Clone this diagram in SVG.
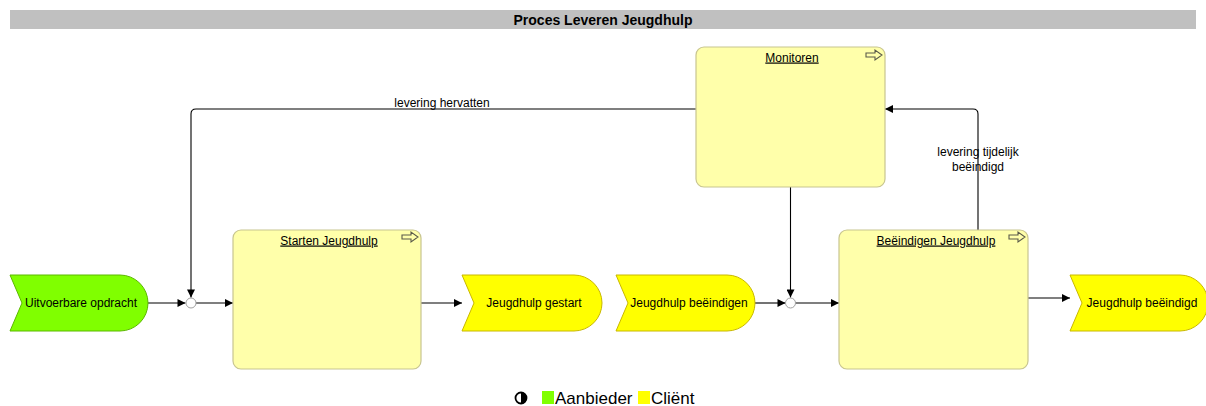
<svg xmlns="http://www.w3.org/2000/svg" width="1206" height="406" viewBox="0 0 1206 406">
<style>
text{font-family:"Liberation Sans",Arial,sans-serif;fill:#000}
.title{font-size:14px;font-weight:bold}
.lbl{font-size:12px}
.ttl{font-size:12px;text-decoration:underline}
.box{fill:#ffffaa;stroke:#c8c590;stroke-width:1.2}
.ev-y{fill:#ffff00;stroke:#c9b800;stroke-width:1}
.ev-g{fill:#80ff00;stroke:#5cb800;stroke-width:1}
.icon{fill:none;stroke:#5a5a4a;stroke-width:1.1}
.con{fill:none;stroke:#000;stroke-width:1.1}
.jn{fill:#fff;stroke:#a0a0a0;stroke-width:1}
.leg{font-size:17px}
</style>
<defs>
<marker id="arr" viewBox="0 0 10 10" refX="10" refY="5" markerWidth="9" markerHeight="8" markerUnits="userSpaceOnUse" orient="auto">
<path d="M0,0 L10,5 L0,10 Z" fill="#000"/>
</marker>
</defs>
<rect width="1206" height="406" fill="#fff"/>
<g id="titlebar">
<rect x="10" y="10" width="1186" height="19" fill="#c0c0c0"/>
<text class="title" x="603" y="24.5" text-anchor="middle">Proces Leveren Jeugdhulp</text>
</g>
<g id="connectors">
<path class="con" d="M148,303 L185.5,303" marker-end="url(#arr)"/>
<path class="con" d="M196,303 L233,303" marker-end="url(#arr)"/>
<path class="con" d="M421,303 L462,303" marker-end="url(#arr)"/>
<path class="con" d="M755,303 L785.5,303" marker-end="url(#arr)"/>
<path class="con" d="M795.5,303 L839,303" marker-end="url(#arr)"/>
<path class="con" d="M1028,298 L1070,298" marker-end="url(#arr)"/>
<path class="con" d="M790.5,187 L790.5,297.5" marker-end="url(#arr)"/>
<path class="con" d="M978,230 L978,114 Q978,109 973,109 L885,109" marker-end="url(#arr)"/>
<path class="con" d="M696,109 L196,109 Q191,109 191,114 L191,297.5" marker-end="url(#arr)"/>
<text class="lbl" x="442" y="106.5" text-anchor="middle">levering hervatten</text>
<text class="lbl" x="978" y="156" text-anchor="middle">levering tijdelijk</text>
<text class="lbl" x="978" y="170.5" text-anchor="middle">beëindigd</text>
</g>
<g id="junction1"><circle class="jn" cx="191" cy="303" r="5"/></g>
<g id="junction2"><circle class="jn" cx="790.5" cy="303" r="5"/></g>
<g id="monitoren">
<rect class="box" x="696" y="47" width="189" height="140" rx="8"/>
<text class="ttl" x="792" y="61.5" text-anchor="middle">Monitoren</text>
<path class="icon" d="M866,53 L875,53 L875,50 L882,55 L875,60 L875,57 L866,57 Z"/>
</g>
<g id="starten">
<rect class="box" x="233" y="230" width="188" height="139" rx="8"/>
<text class="ttl" x="329" y="244.5" text-anchor="middle">Starten Jeugdhulp</text>
<path class="icon" d="M402,235 L411,235 L411,232 L418,237 L411,242 L411,239 L402,239 Z"/>
</g>
<g id="beeindigen-box">
<rect class="box" x="839" y="230" width="189" height="139" rx="8"/>
<text class="ttl" x="936" y="244.5" text-anchor="middle">Beëindigen Jeugdhulp</text>
<path class="icon" d="M1009,235 L1018,235 L1018,232 L1025,237 L1018,242 L1018,239 L1009,239 Z"/>
</g>
<g id="ev-uitvoerbare">
<path class="ev-g" d="M10,275 L120,275 A28,28 0 0 1 120,331 L10,331 L22,303 Z"/>
<text class="lbl" x="81" y="307" text-anchor="middle">Uitvoerbare opdracht</text>
</g>
<g id="ev-gestart">
<path class="ev-y" d="M462,275 L574,275 A28,28 0 0 1 574,331 L462,331 L474,303 Z"/>
<text class="lbl" x="534" y="307" text-anchor="middle">Jeugdhulp gestart</text>
</g>
<g id="ev-beeindigen">
<path class="ev-y" d="M616,275 L727,275 A28,28 0 0 1 727,331 L616,331 L628,303 Z"/>
<text class="lbl" x="689" y="307" text-anchor="middle">Jeugdhulp beëindigen</text>
</g>
<g id="ev-beeindigd">
<path class="ev-y" d="M1070,275 L1180,275 A28,28 0 0 1 1180,331 L1070,331 L1082,303 Z"/>
<text class="lbl" x="1142" y="307" text-anchor="middle">Jeugdhulp beëindigd</text>
</g>
<g id="legend">
<circle cx="521" cy="398" r="5.5" fill="#fff" stroke="#000" stroke-width="1.8"/>
<path d="M521,392.5 A5.5,5.5 0 0 1 521,403.5 Z" fill="#000"/>
<rect x="542" y="391" width="12" height="13" fill="#80ff00"/>
<text class="leg" x="555" y="404">Aanbieder</text>
<rect x="638" y="391" width="12" height="13" fill="#ffff00"/>
<text class="leg" x="651" y="404">Cliënt</text>
</g>
</svg>
